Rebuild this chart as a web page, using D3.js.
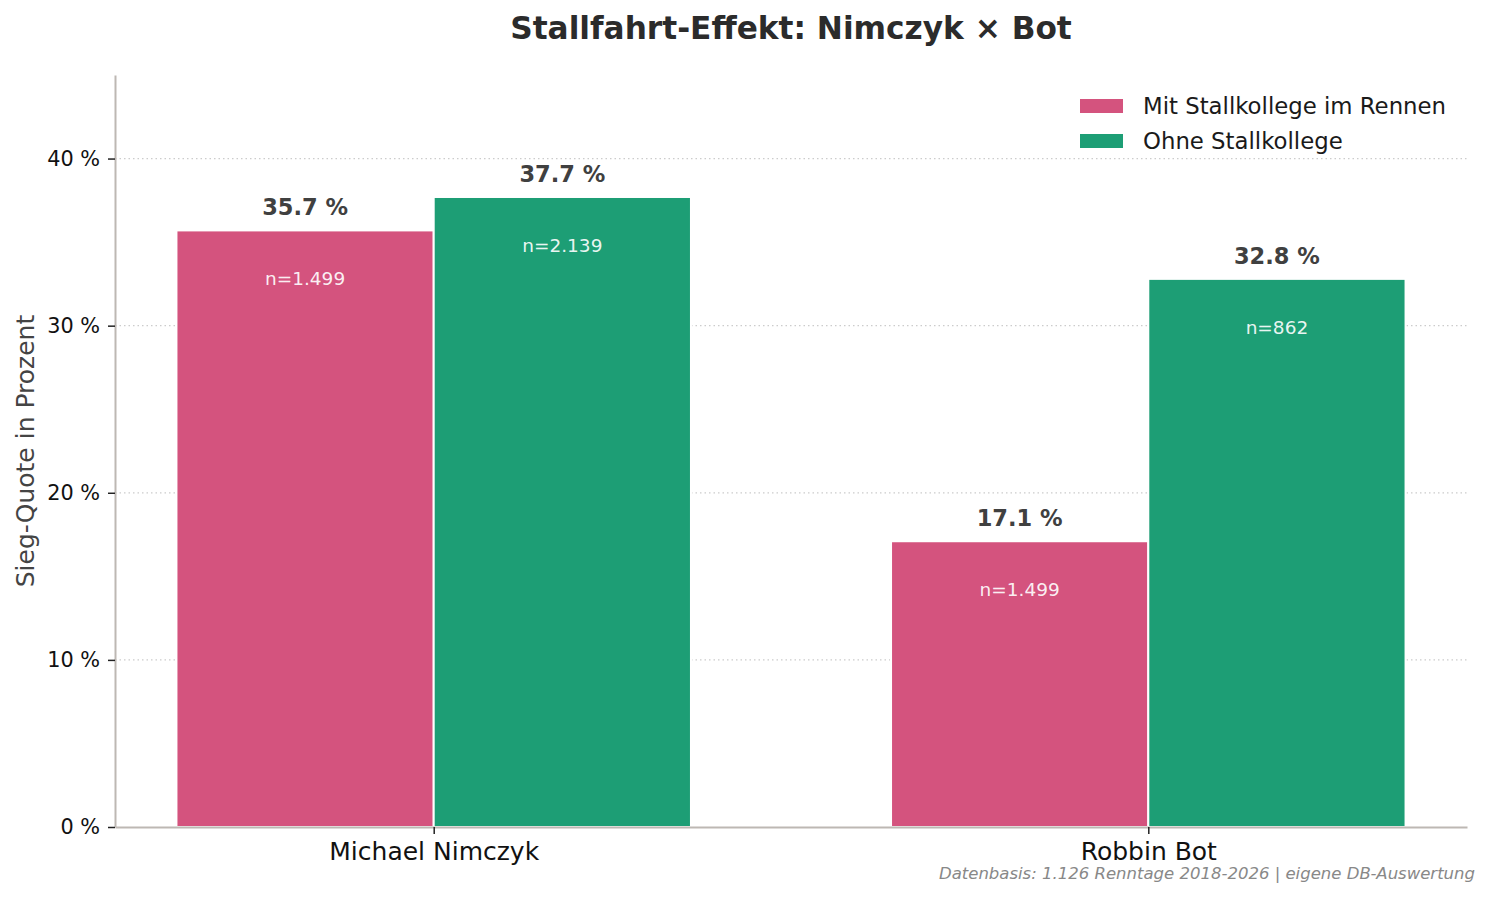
<html>
<head>
  <script src="https://cdn.jsdelivr.net/npm/d3@7/dist/d3.min.js"></script>
</head>
<style>
  body { margin: 0; background: #fff; }
  svg { display: block; font-family: "DejaVu Sans", sans-serif; }
</style>
<body>
  <svg id="chart"></svg>

  <script type="text/javascript">
    // data
    var jockeys = ['Michael Nimczyk', 'Robbin Bot'];
    var seriesNames = ['Mit Stallkollege im Rennen', 'Ohne Stallkollege'];
    var mitValues = [35.7, 17.1];
    var ohneValues = [37.7, 32.8];
    var mitN = ['1.499', '1.499'];
    var ohneN = ['2.139', '862'];
    var yTicks = [0, 10, 20, 30, 40];
    var colors = ['#d4537e', '#1d9e75'];

    var W = 1489, H = 897;
    var margin = { top: 75, left: 115, bottom: 70, right: 22 };
    var width = W - margin.left - margin.right;
    var height = H - margin.top - margin.bottom;
    var barW = 0.36;

    var svg = d3.select('#chart')
      .attr('width', W)
      .attr('height', H);

    var g = svg.append('g')
      .attr('transform', 'translate(' + margin.left + ',' + margin.top + ')');

    var x = d3.scaleLinear()
      .domain([-0.446, 1.446])
      .range([0, width]);
    var y = d3.scaleLinear()
      .domain([0, 45])
      .range([height, 0]);

    // grid
    g.selectAll('line.grid')
      .data(yTicks.filter(function(d) { return d > 0; }))
      .enter()
      .append('line')
      .attr('class', 'grid')
      .attr('x1', 0)
      .attr('x2', width)
      .attr('y1', function(d) { return y(d); })
      .attr('y2', function(d) { return y(d); })
      .attr('stroke', '#cccccc')
      .attr('stroke-width', 1.2)
      .attr('stroke-dasharray', '1.5,3');

    var rows = [];
    jockeys.forEach(function(j, i) {
      rows.push({ cat: i, off: -barW / 2, v: mitValues[i], n: mitN[i], c: colors[0] });
      rows.push({ cat: i, off: barW / 2, v: ohneValues[i], n: ohneN[i], c: colors[1] });
    });

    // bars
    g.selectAll('rect.bar')
      .data(rows)
      .enter()
      .append('rect')
      .attr('class', 'bar')
      .attr('x', function(d) { return x(d.cat + d.off - barW / 2); })
      .attr('y', function(d) { return y(d.v); })
      .attr('width', x(barW) - x(0))
      .attr('height', function(d) { return y(0) - y(d.v); })
      .attr('fill', function(d) { return d.c; })
      .attr('stroke', '#ffffff')
      .attr('stroke-width', 2);

    // value labels
    g.selectAll('text.val')
      .data(rows)
      .enter()
      .append('text')
      .attr('class', 'val')
      .attr('x', function(d) { return x(d.cat + d.off); })
      .attr('y', function(d) { return y(d.v) - 15; })
      .attr('text-anchor', 'middle')
      .attr('font-size', 22.5)
      .attr('font-weight', 'bold')
      .attr('fill', '#404040')
      .text(function(d) { return d.v.toFixed(1) + ' %'; });

    // n labels
    g.selectAll('text.n')
      .data(rows)
      .enter()
      .append('text')
      .attr('class', 'n')
      .attr('x', function(d) { return x(d.cat + d.off); })
      .attr('y', function(d) { return y(d.v) + 55; })
      .attr('text-anchor', 'middle')
      .attr('font-size', 18.5)
      .attr('fill', '#ffffff')
      .attr('fill-opacity', 0.92)
      .text(function(d) { return 'n=' + d.n; });

    // y axis
    var yAxis = d3.axisLeft(y)
      .tickValues(yTicks)
      .tickSize(7)
      .tickSizeOuter(0)
      .tickPadding(8)
      .tickFormat(function(d) { return d + ' %'; });
    var ya = g.append('g').call(yAxis);
    ya.select('.domain').attr('stroke', '#bdb8b3').attr('stroke-width', 2);
    ya.selectAll('.tick line').attr('stroke', '#222').attr('stroke-width', 1.5);
    ya.selectAll('.tick text')
      .attr('font-size', 20.8)
      .attr('font-family', 'DejaVu Sans, sans-serif')
      .attr('fill', '#111');

    // x axis
    var xAxis = d3.axisBottom(x)
      .tickValues([0, 1])
      .tickSize(7)
      .tickSizeOuter(0)
      .tickPadding(8)
      .tickFormat(function(d) { return jockeys[d]; });
    var xa = g.append('g')
      .attr('transform', 'translate(0,' + height + ')')
      .call(xAxis);
    xa.select('.domain').attr('stroke', '#bdb8b3').attr('stroke-width', 2);
    xa.selectAll('.tick line').attr('stroke', '#222').attr('stroke-width', 1.5);
    xa.selectAll('.tick text')
      .attr('font-size', 25)
      .attr('font-family', 'DejaVu Sans, sans-serif')
      .attr('fill', '#111');

    // y label
    svg.append('text')
      .attr('transform', 'translate(34,' + (margin.top + height / 2) + ') rotate(-90)')
      .attr('text-anchor', 'middle')
      .attr('font-size', 25)
      .attr('fill', '#444')
      .text('Sieg-Quote in Prozent');

    // title
    svg.append('text')
      .attr('x', margin.left + width / 2)
      .attr('y', 39)
      .attr('text-anchor', 'middle')
      .attr('font-size', 31.2)
      .attr('font-weight', 'bold')
      .attr('fill', '#2b2b2b')
      .text('Stallfahrt-Effekt: Nimczyk \u00d7 Bot');

    // legend
    var legend = svg.append('g')
      .attr('transform', 'translate(1080,99)');
    seriesNames.forEach(function(s, i) {
      legend.append('rect')
        .attr('x', 0)
        .attr('y', i * 35)
        .attr('width', 43)
        .attr('height', 14)
        .attr('fill', colors[i]);
      legend.append('text')
        .attr('x', 63)
        .attr('y', i * 35 + 15)
        .attr('font-size', 22.8)
        .attr('fill', '#1a1a1a')
        .text(s);
    });

    // footer
    svg.append('text')
      .attr('x', 1475)
      .attr('y', 879)
      .attr('text-anchor', 'end')
      .attr('font-size', 16.5)
      .attr('font-style', 'italic')
      .attr('fill', '#888')
      .text('Datenbasis: 1.126 Renntage 2018-2026 | eigene DB-Auswertung');
  </script>
</body>
</html>
